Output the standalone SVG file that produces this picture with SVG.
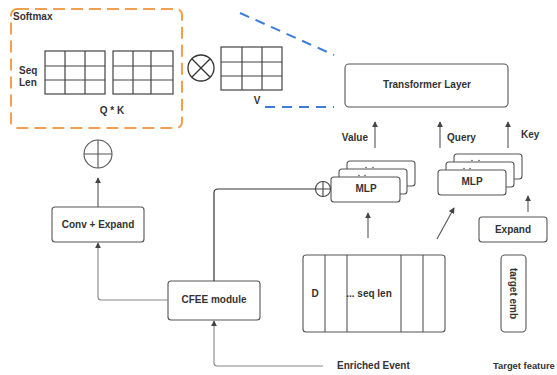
<svg xmlns="http://www.w3.org/2000/svg" width="557" height="375" viewBox="0 0 557 375">
<style>
text{font-family:"Liberation Sans",Arial,sans-serif;font-weight:bold;font-size:10px;fill:#333}
.box{fill:#fff;stroke:#555;stroke-width:1.1}
.grid{fill:none;stroke:#444;stroke-width:1.2}
.c{text-anchor:middle}
.ln{fill:none;stroke:#555;stroke-width:1.1}
.lt{fill:none;stroke:#888;stroke-width:1.1}
.dk{fill:none;stroke:#333;stroke-width:1.2}
.blue{fill:none;stroke:#3B7DDD;stroke-width:2;stroke-dasharray:10 7}
</style>
<defs>
<marker id="ah" viewBox="0 0 8 8" refX="7" refY="4" markerWidth="6" markerHeight="6" markerUnits="userSpaceOnUse" orient="auto">
<path d="M0,0 L8,4 L0,8 z" fill="#444"/>
</marker>
</defs>
<rect width="557" height="375" fill="#fff"/>

<g id="softmax">
<rect x="11" y="9" width="171" height="119" rx="6" fill="none" stroke="#F0A050" stroke-width="2" stroke-dasharray="12 6"/>
<text x="13" y="20">Softmax</text>
<text x="19" y="74">Seq</text>
<text x="19" y="86">Len</text>
<g class="grid">
<rect x="45" y="51" width="60" height="43"/>
<path d="M65,51V94M85,51V94M45,66H105M45,80H105"/>
<rect x="113" y="51" width="60" height="43"/>
<path d="M133,51V94M151,51V94M113,66H173M113,80H173"/>
</g>
<text class="c" x="112" y="114">Q * K</text>
</g>

<g id="otimes">
<circle cx="201" cy="68" r="13" fill="none" stroke="#333" stroke-width="1.3"/>
<path d="M191.8,58.8L210.2,77.2M210.2,58.8L191.8,77.2" stroke="#333" stroke-width="1.3"/>
</g>

<g id="v-matrix">
<rect class="grid" x="221" y="47" width="61" height="43"/>
<path class="grid" d="M242,47V90M262,47V90M221,62H282M221,76H282"/>
<text class="c" x="257" y="104">V</text>
</g>

<g id="transformer">
<rect class="box" x="345" y="64" width="163" height="43" rx="4"/>
<text class="c" x="427" y="88">Transformer Layer</text>
</g>

<g id="labels">
<text x="368" y="141" text-anchor="end">Value</text>
<text x="447" y="141">Query</text>
<text x="521" y="138">Key</text>
</g>

<g id="mlp-value">
<rect class="box" x="347" y="161" width="68" height="25" rx="3"/>
<circle cx="366" cy="167.5" r="0.8" fill="#555"/><circle cx="373" cy="167.5" r="0.8" fill="#555"/>
<rect class="box" x="339" y="169" width="68" height="25" rx="3"/>
<circle cx="359" cy="175.5" r="0.8" fill="#555"/><circle cx="365" cy="175.5" r="0.8" fill="#555"/>
<rect class="box" x="331" y="177" width="69" height="25" rx="3"/>
<text class="c" x="366" y="192">MLP</text>
</g>

<g id="oplus-value">
<circle cx="323" cy="189" r="7.5" fill="#fff" stroke="#444" stroke-width="1.1"/>
<path d="M315.5,189H330.5M323,181.5V196.5" stroke="#444" stroke-width="1.1"/>
</g>

<g id="mlp-query">
<rect class="box" x="454" y="154" width="68" height="25" rx="3"/>
<circle cx="472" cy="160.5" r="0.8" fill="#555"/><circle cx="479" cy="160.5" r="0.8" fill="#555"/>
<rect class="box" x="446" y="162" width="68" height="25" rx="3"/>
<circle cx="464" cy="168.5" r="0.8" fill="#555"/><circle cx="470" cy="168.5" r="0.8" fill="#555"/>
<rect class="box" x="438" y="170" width="68" height="25" rx="3"/>
<text class="c" x="472" y="185">MLP</text>
</g>

<g id="expand">
<rect class="box" x="479" y="217" width="68" height="25" rx="3"/>
<text class="c" x="513" y="233">Expand</text>
</g>

<g id="oplus-left">
<circle cx="98" cy="154" r="14" fill="#fff" stroke="#555" stroke-width="1.1"/>
<path d="M84,154H112M98,140V168" stroke="#555" stroke-width="1.1"/>
</g>

<g id="conv-expand">
<rect class="box" x="52" y="207" width="92" height="35" rx="3"/>
<text class="c" x="98" y="227.5">Conv + Expand</text>
</g>

<g id="cfee">
<rect class="box" x="168" y="281" width="92" height="39" rx="3"/>
<text class="c" x="214" y="303">CFEE module</text>
</g>

<g id="enriched-event">
<rect class="box" x="303" y="255" width="142" height="77" rx="3"/>
<path class="ln" d="M325,255V332M347,255V332M401,255V332M423,255V332"/>
<text class="c" x="315" y="297">D</text>
<text class="c" x="369" y="297">... seq len</text>
<text x="337" y="369">Enriched Event</text>
</g>

<g id="target-feature">
<rect class="box" x="501" y="255" width="25" height="77" rx="4"/>
<text class="c" transform="translate(510,293.5) rotate(90)">target emb</text>
<text x="493" y="369" style="font-size:9.4px">Target feature</text>
</g>

<g id="connectors">
<line class="ln" x1="98" y1="207" x2="98" y2="178" marker-end="url(#ah)"/>
<path class="lt" d="M168,300H101Q98,300 98,297V243" marker-end="url(#ah)"/>
<path class="dk" d="M214,281V193Q214,189 218,189H315.5"/>
<path class="lt" d="M323,366H217Q214,366 214,363V321" marker-end="url(#ah)"/>
<line class="ln" x1="375" y1="148" x2="375" y2="122" marker-end="url(#ah)"/>
<line class="ln" x1="440" y1="148" x2="440" y2="122" marker-end="url(#ah)"/>
<line class="ln" x1="508" y1="148" x2="508" y2="122" marker-end="url(#ah)"/>
<line class="ln" x1="528" y1="212" x2="528" y2="196" marker-end="url(#ah)"/>
<line class="ln" x1="368" y1="238" x2="368" y2="213" marker-end="url(#ah)"/>
<line class="ln" x1="437" y1="239" x2="454" y2="208" marker-end="url(#ah)"/>
<line class="blue" x1="240" y1="13" x2="334" y2="55"/>
<line class="blue" x1="265" y1="107" x2="334" y2="107"/>
</g>
</svg>
